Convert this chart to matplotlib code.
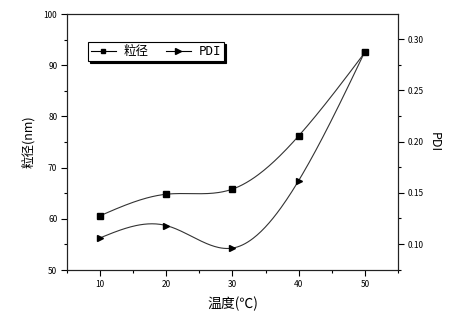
import numpy as np
import matplotlib
matplotlib.use('Agg')
import matplotlib.pyplot as plt
from matplotlib.ticker import MultipleLocator

plt.rcParams['font.family'] = ['Noto Sans CJK SC', 'DejaVu Sans']

temps = [10, 20, 30, 40, 50]
size_nm = [60.6, 64.8, 65.8, 76.2, 92.5]
pdi = [0.106, 0.118, 0.096, 0.162, 0.288]


def natural_spline(x, y, n=200):
    # natural cubic spline through the points, for smooth Origin-style lines
    x = np.asarray(x, float)
    y = np.asarray(y, float)
    k = len(x)
    h = np.diff(x)
    A = np.zeros((k, k))
    b = np.zeros(k)
    A[0, 0] = A[-1, -1] = 1
    for i in range(1, k - 1):
        A[i, i - 1] = h[i - 1]
        A[i, i] = 2 * (h[i - 1] + h[i])
        A[i, i + 1] = h[i]
        b[i] = 6 * ((y[i + 1] - y[i]) / h[i] - (y[i] - y[i - 1]) / h[i - 1])
    m = np.linalg.solve(A, b)
    xs = np.linspace(x[0], x[-1], n)
    idx = np.clip(np.searchsorted(x, xs) - 1, 0, k - 2)
    x0, x1 = x[idx], x[idx + 1]
    hh = x1 - x0
    t0, t1 = x1 - xs, xs - x0
    ys = (m[idx] * t0 ** 3 + m[idx + 1] * t1 ** 3) / (6 * hh) \
        + (y[idx] / hh - m[idx] * hh / 6) * t0 \
        + (y[idx + 1] / hh - m[idx + 1] * hh / 6) * t1
    return xs, ys


fig = plt.figure(figsize=(4.58, 3.22), dpi=100)
ax = fig.add_axes([67 / 458, 52 / 322, 331 / 458, 256 / 322])
ax2 = ax.twinx()

xs, ys = natural_spline(temps, size_nm)
ax.plot(xs, ys, color='#333333', lw=0.8)
ax.plot(temps, size_nm, 's', color='black', ms=4, ls='none')
xs2, ys2 = natural_spline(temps, pdi)
ax2.plot(xs2, ys2, color='#333333', lw=0.8)
ax2.plot(temps, pdi, '>', color='black', ms=4.5, ls='none')

ax.set_xlim(5, 55)
ax.set_ylim(50, 100)
ax2.set_ylim(0.0746, 0.3247)

ax.xaxis.set_major_locator(MultipleLocator(10))
ax.xaxis.set_minor_locator(MultipleLocator(5))
ax.yaxis.set_major_locator(MultipleLocator(10))
ax.yaxis.set_minor_locator(MultipleLocator(5))
ax2.yaxis.set_major_locator(MultipleLocator(0.05))
ax2.yaxis.set_minor_locator(MultipleLocator(0.025))
ax2.yaxis.set_major_formatter(plt.FuncFormatter(lambda v, p: f'{v:.2f}'))

for a in (ax, ax2):
    a.tick_params(which='major', direction='out', length=4, width=0.8,
                  labelsize=6, colors='black', pad=3)
    a.tick_params(which='minor', direction='out', length=2.5, width=0.8)
    for s in a.spines.values():
        s.set_linewidth(0.8)
        s.set_color('#222222')
ax.tick_params(top=False, right=False)
ax2.tick_params(left=False, top=False)

ax.set_xlabel('温度(℃)', fontsize=10, labelpad=6)
ax.set_ylabel('粒径(nm)', fontsize=9, labelpad=6)
ax2.set_ylabel('PDI', fontsize=9, rotation=270, labelpad=12)

h1 = ax.plot([], [], 's-', color='black', ms=3.5, lw=0.8, label='粒径')[0]
h2 = ax.plot([], [], '>-', color='black', ms=4, lw=0.8, label='PDI')[0]
leg = ax.legend(handles=[h1, h2], ncol=2, loc='upper left',
                bbox_to_anchor=(0.063, 0.89), borderaxespad=0, fontsize=9,
                frameon=True, fancybox=False,
                shadow={'color': 'black', 'alpha': 1, 'ox': 1.5, 'oy': -1.5},
                edgecolor='black', handlelength=2.0, columnspacing=1.4,
                borderpad=0.25, handletextpad=0.6)
leg.get_frame().set_linewidth(0.8)
for t in leg.get_texts():
    if t.get_text() == 'PDI':
        t.set_family(['DejaVu Sans Mono'])

fig.savefig('out.png', dpi=100)
